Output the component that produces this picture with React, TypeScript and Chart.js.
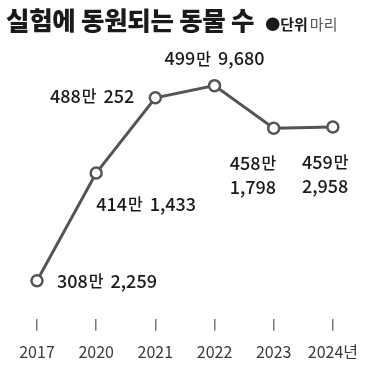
import React, { useEffect, useRef } from 'react';
import { Chart, registerables } from 'chart.js';

Chart.register(...registerables);

const years = ['2017', '2020', '2021', '2022', '2023', '2024년'];
const animals = [3082259, 4141433, 4880252, 4999680, 4581798, 4592958];

const TITLE = '실험에 동원되는 동물 수';
const UNIT_BOLD = '●단위';
const UNIT = '마리';

const FONT = '"Noto Sans CJK KR", "Noto Sans", sans-serif';
const LINE = '#555555';

// label placement relative to each point: [dx, dy, align, twoLines]
const placement: Array<[number, number, CanvasTextAlign, boolean]> = [
  [20, 0, 'left', false],
  [0, 31, 'left', false],
  [-21, -2, 'right', false],
  [0, -27, 'center', false],
  [-44, 35, 'left', true],
  [-31, 35, 'left', true],
];

function splitValue(v: number): [string, string] {
  const man = Math.floor(v / 10000);
  const rest = v % 10000;
  return [String(man), rest.toLocaleString('en-US')];
}

type Seg = { t: string; f: string; gap?: number };

function drawSegs(ctx: CanvasRenderingContext2D, segs: Seg[], x: number, y: number, align: CanvasTextAlign) {
  let total = 0;
  const widths = segs.map((s) => {
    ctx.font = s.f;
    const w = ctx.measureText(s.t).width + (s.gap || 0);
    total += w;
    return w;
  });
  let cx = align === 'left' ? x : align === 'right' ? x - total : x - total / 2;
  segs.forEach((s, i) => {
    ctx.font = s.f;
    ctx.textAlign = 'left';
    ctx.textBaseline = 'middle';
    ctx.fillText(s.t, cx + (s.gap || 0), y);
    cx += widths[i];
  });
}

const labelPlugin = {
  id: 'valueLabels',
  afterDatasetsDraw(chart: any) {
    const ctx: CanvasRenderingContext2D = chart.ctx;
    const meta = chart.getDatasetMeta(0);
    const big = `500 18px ${FONT}`;
    const small = `500 16px ${FONT}`;
    ctx.save();
    ctx.fillStyle = '#1a1a1a';
    meta.data.forEach((pt: any, i: number) => {
      const [man, rest] = splitValue(animals[i]);
      const [dx, dy, align, two] = placement[i];
      const x = pt.x + dx;
      const y = pt.y + dy;
      if (two) {
        drawSegs(ctx, [{ t: man, f: big }, { t: '만', f: small, gap: 1 }], x, y, align);
        drawSegs(ctx, [{ t: rest, f: big }], x, y + 24, align);
      } else {
        drawSegs(
          ctx,
          [{ t: man, f: big }, { t: '만', f: small, gap: 1 }, { t: rest, f: big, gap: 7 }],
          x,
          y,
          align
        );
      }
    });
    ctx.restore();
  },
};

export default function App() {
  const ref = useRef<HTMLCanvasElement | null>(null);

  useEffect(() => {
    document.body.style.margin = '0';
    document.body.style.background = '#ffffff';
    if (!ref.current) return;
    const chart = new Chart(ref.current, {
      type: 'line',
      data: {
        labels: years,
        datasets: [
          {
            data: animals,
            borderColor: LINE,
            borderWidth: 3,
            pointRadius: 5.5,
            pointBorderWidth: 2.5,
            pointBackgroundColor: '#ffffff',
            pointBorderColor: LINE,
            tension: 0,
          },
        ],
      },
      options: {
        animation: false,
        responsive: false,
        maintainAspectRatio: false,
        layout: { padding: { left: 37, right: 35, top: 45, bottom: 1 } },
        plugins: { legend: { display: false }, tooltip: { enabled: false } },
        scales: {
          y: { display: false, min: 2709000, max: 5399000 },
          x: {
            offset: false,
            border: { display: false },
            grid: {
              display: true,
              drawOnChartArea: false,
              drawTicks: true,
              tickLength: 12,
              color: '#777777',
              lineWidth: 1.5,
            },
            ticks: {
              padding: 12,
              color: '#3a3a3a',
              font: { family: FONT, size: 16 },
              maxRotation: 0,
              autoSkip: false,
            },
          },
        },
      },
      plugins: [labelPlugin],
    });
    return () => chart.destroy();
  }, []);

  return (
    <div style={{ position: 'relative', width: 370, height: 375, background: '#fff', overflow: 'hidden' }}>
      <canvas ref={ref} width={370} height={375} style={{ position: 'absolute', left: 0, top: 0, width: 370, height: 375 }} />
      <div
        style={{
          position: 'absolute',
          left: 6,
          top: 4,
          whiteSpace: 'nowrap',
          fontFamily: FONT,
          lineHeight: '30px',
          color: '#1a1a1a',
        }}
      >
        <span style={{ fontSize: 25.5, fontWeight: 900, letterSpacing: -0.3 }}>{TITLE}</span>
        <span style={{ fontSize: 15, fontWeight: 700, marginLeft: 11 }}>{UNIT_BOLD}</span>
        <span style={{ fontSize: 15, fontWeight: 400, marginLeft: 2, color: '#555' }}>{UNIT}</span>
      </div>
    </div>
  );
}
